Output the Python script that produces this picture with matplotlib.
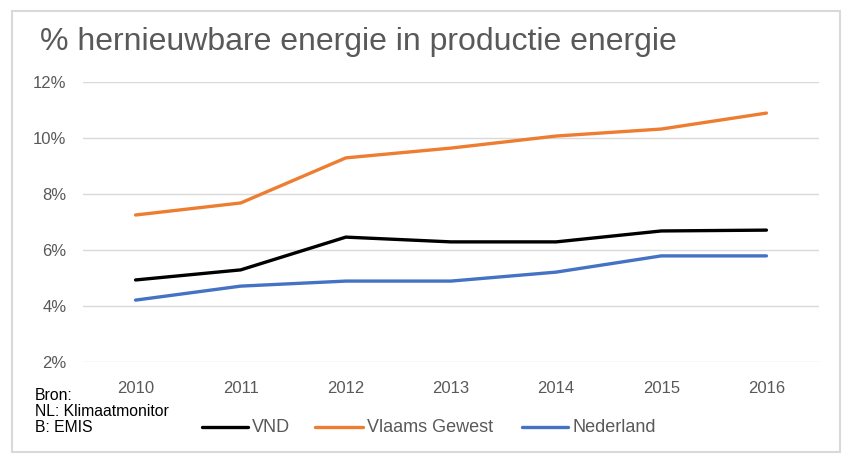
import matplotlib
matplotlib.use("Agg")
import matplotlib.pyplot as plt
from matplotlib.patches import Rectangle
from matplotlib.lines import Line2D

years = ["2010", "2011", "2012", "2013", "2014", "2015", "2016"]
vnd = [4.93, 5.29, 6.46, 6.29, 6.29, 6.68, 6.71]
vlaams = [7.25, 7.68, 9.29, 9.64, 10.07, 10.32, 10.89]
nederland = [4.21, 4.71, 4.89, 4.89, 5.21, 5.79, 5.79]
yticks = [2, 4, 6, 8, 10, 12]
series_names = ["VND", "Vlaams Gewest", "Nederland"]
colors = ["black", "#ED7D31", "#4472C4"]
title = "% hernieuwbare energie in productie energie"
source = ["Bron:", "NL: Klimaatmonitor", "B: EMIS"]

W, H = 842, 454
fig = plt.figure(figsize=(W / 100, H / 100), dpi=100)
fam = ["Liberation Sans", "DejaVu Sans"]

# outer frame
fig.patches.append(Rectangle((12 / W, 2 / H), 828 / W, 441 / H, transform=fig.transFigure,
                             fill=False, edgecolor="#d9d9d9", linewidth=1.5))

ax = fig.add_axes([83 / W, 1 - 362 / H, (819 - 83) / W, (362 - 82) / H])
x = list(range(len(years)))
for vals, c in zip([vnd, vlaams, nederland], colors):
    ax.plot(x, vals, color=c, lw=2.4, solid_capstyle="round")
ax.set_xlim(-0.5, 6.5)
ax.set_ylim(2, 12)
ax.set_yticks(yticks)
ax.set_yticklabels([f"{v}%" for v in yticks], family=fam, fontsize=12, color="#595959")
ax.set_xticks(x)
ax.set_xticklabels(years, family=fam, fontsize=12, color="#595959")
ax.grid(axis="y", color="#d9d9d9", lw=1)
ax.set_axisbelow(True)
for s in ax.spines.values():
    s.set_visible(False)
ax.tick_params(length=0)
ax.tick_params(axis="x", pad=14)
ax.tick_params(axis="y", pad=12)

fig.text(40 / W, 1 - 42 / H, title, family=fam, fontsize=23, color="#595959", va="center")

for i, s in enumerate(source):
    fig.text(35 / W, 1 - (396 + i * 16) / H, s, family=fam, fontsize=11.3, color="black", va="center")

# legend (manual placement of handles and labels)
leg_y = 1 - 427 / H
line_x = [(202, 248), (315, 363), (522, 568)]
for (x0, x1), c, name in zip(line_x, colors, series_names):
    fig.add_artist(Line2D([x0 / W, x1 / W], [leg_y, leg_y], transform=fig.transFigure,
                          color=c, lw=2.4, solid_capstyle="round"))
    fig.text((x1 + 4) / W, leg_y, name, family=fam, fontsize=13, color="#595959", va="center")

fig.savefig("out.png", dpi=100)
